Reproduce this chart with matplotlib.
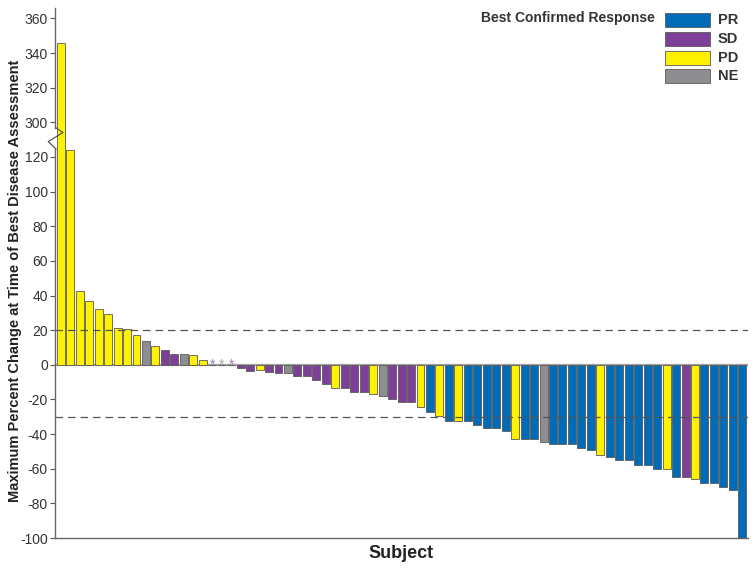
import numpy as np
import matplotlib
matplotlib.use("Agg")
import matplotlib.pyplot as plt
import matplotlib.transforms as mtransforms
from matplotlib.patches import Rectangle

plt.rcParams['font.family'] = ['Liberation Sans', 'DejaVu Sans']

# best % change per subject (sorted) and best confirmed response
pct_change = [346, 124, 42.5, 37, 32.5, 29.5, 21.5, 20.5, 17, 13.5, 11, 8.5, 6.5, 6.5, 5.5, 2.7,
              0, 0, 0,
              -2, -3.3, -3, -4, -5, -5, -6.3, -6.3, -9, -11.3, -13.3, -13.3, -15.6, -15.6, -17, -18,
              -20, -21.7, -21.7, -24.4, -27, -29.8, -32.4, -32.5, -32.5, -34.6, -36.5, -36.5, -38.5,
              -42.9, -42.9, -42.9, -44.8, -45.8, -45.8, -45.8, -47.9, -49.4, -51.9, -53, -55, -55,
              -57.9, -57.9, -60, -60, -64.6, -64.6, -66, -68, -68, -70.4, -72, -100]
response = ['PD', 'PD', 'PD', 'PD', 'PD', 'PD', 'PD', 'PD', 'PD', 'NE', 'PD', 'SD', 'SD', 'NE', 'PD', 'PD',
            'SD', 'NE', 'SD',
            'SD', 'SD', 'PD', 'SD', 'SD', 'NE', 'SD', 'SD', 'SD', 'SD', 'PD', 'SD', 'SD', 'SD', 'PD', 'NE',
            'SD', 'SD', 'SD', 'PD', 'PR', 'PD', 'PR', 'PD', 'PR', 'PR', 'PR', 'PR', 'PR',
            'PD', 'PR', 'PR', 'NE', 'PR', 'PR', 'PR', 'PR', 'PR', 'PD', 'PR', 'PR', 'PR',
            'PR', 'PR', 'PR', 'PD', 'PR', 'SD', 'PD', 'PR', 'PR', 'PR', 'PR', 'PR']

categories = ['PR', 'SD', 'PD', 'NE']
colors = {'PR': '#006BB6', 'SD': '#7D3F98', 'PD': '#FFF200', 'NE': '#8E8E90'}

# broken y axis: values above the break are shifted down
break_lo, break_hi = 130, 290
lower_ticks = list(range(-100, 121, 20))
upper_ticks = [300, 320, 340, 360]


def to_display(v):
    return v - (break_hi - break_lo) if v > break_lo else v


fig = plt.figure(figsize=(7.54, 5.69), dpi=100)
ax = fig.add_axes([55 / 754, 31 / 569, 693 / 754, 530 / 569])

x = np.arange(len(pct_change))
heights = [to_display(v) for v in pct_change]
ax.axhline(0, color='#a0a0a0', lw=1.6, zorder=1)
ax.bar(x, heights, width=0.84, color=[colors[r] for r in response],
       edgecolor='#5a5a5a', linewidth=0.6, zorder=2)

# zero-change subjects marked with stars
for i, v in enumerate(pct_change):
    if v == 0:
        ax.text(i, -2.3, '*', ha='center', va='baseline', fontsize=10,
                color='#9a7ab8' if response[i] == 'SD' else '#a8a8a8', zorder=3)

# reference lines
ax.axhline(20, color='#555555', lw=0.9, dashes=(6, 4), zorder=4)
ax.axhline(-30, color='#555555', lw=0.9, dashes=(6, 4), zorder=4)

ax.set_xlim(-0.61, 72.6)
ax.set_ylim(-100, 206)
ax.set_yticks(lower_ticks + [to_display(t) for t in upper_ticks])
ax.set_yticklabels([str(t) for t in lower_ticks + upper_ticks], fontsize=10, color='#333333')
ax.set_xticks([])
ax.tick_params(axis='y', length=3.6, width=0.8, color='#555555', pad=1.5)

for s in ['top', 'right', 'left']:
    ax.spines[s].set_visible(False)
ax.spines['bottom'].set_color('#666666')
ax.spines['bottom'].set_linewidth(1.0)

# left spine with a zig-zag break
tr = mtransforms.blended_transform_factory(ax.transAxes, ax.transData)
ax.plot([0, 0], [-100, 124.6], color='#666666', lw=1.0, transform=tr, clip_on=False, zorder=5)
ax.plot([0, 0], [136.8, 206], color='#666666', lw=1.0, transform=tr, clip_on=False, zorder=5)
ax.plot([0.0014, 0.0115, -0.0097, 0.0014], [136.8, 134.1, 128.9, 124.6],
        color='#555555', lw=0.9, transform=tr, clip_on=False, zorder=5)

# y label sized to span ~440 px like the reference
ylab = fig.text(15 / 754, 1 - 281 / 569,
                'Maximum Percent Change at Time of Best Disease Assessment',
                rotation=90, ha='center', va='center', fontsize=10,
                fontweight='bold', color='#222222')
renderer = fig.canvas.get_renderer()
h = ylab.get_window_extent(renderer).height
ylab.set_fontsize(10 * 440 / h)

ax.set_xlabel('Subject', fontsize=13, fontweight='bold', color='#222222', labelpad=5)

# legend
fig.text(655 / 754, 1 - 18 / 569, 'Best Confirmed Response', ha='right', va='center',
         fontsize=10, fontweight='bold', color='#333333')
for k, cat in enumerate(categories):
    yc = 20 + k * 18.8
    fig.patches.append(Rectangle((665 / 754, 1 - (yc + 7) / 569), 45 / 754, 14 / 569,
                                 transform=fig.transFigure, facecolor=colors[cat],
                                 edgecolor='#5a5a5a', linewidth=0.6))
    fig.text(718 / 754, 1 - yc / 569, cat, ha='left', va='center',
             fontsize=10.5, fontweight='bold', color='#333333')

fig.savefig('out.png', dpi=100)
